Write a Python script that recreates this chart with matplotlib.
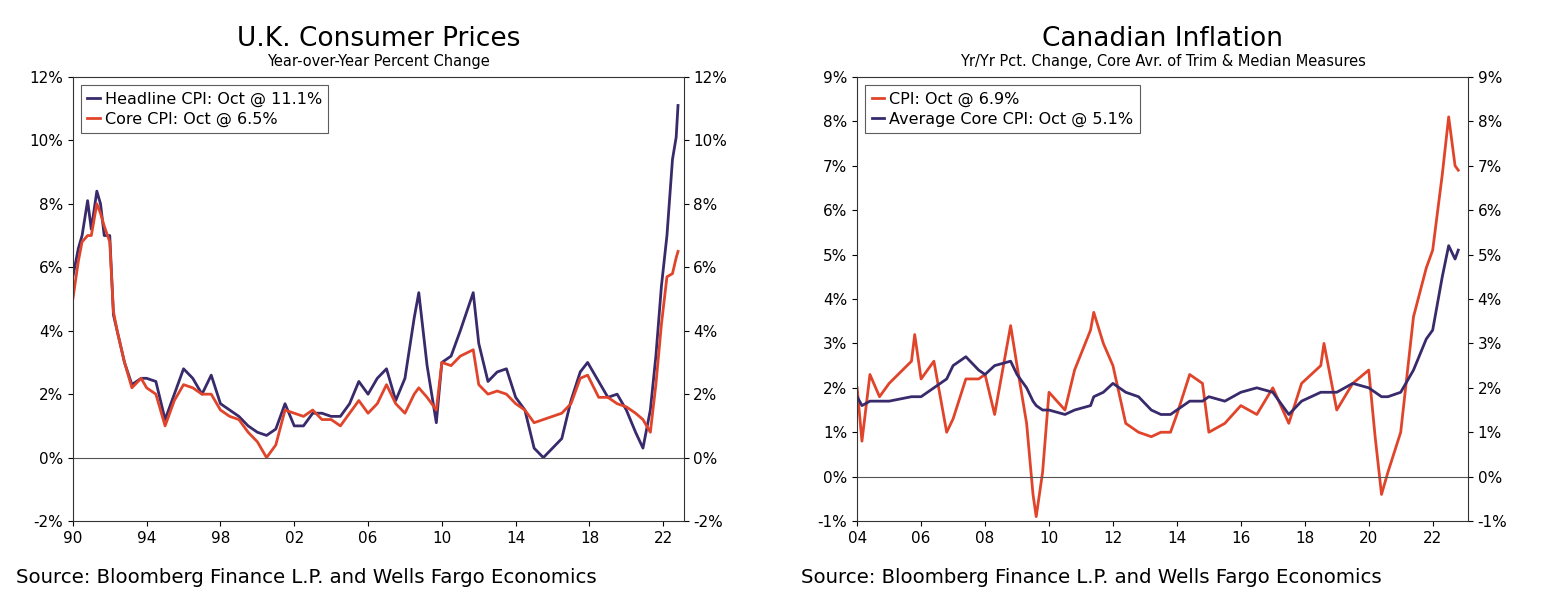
import matplotlib
matplotlib.use('Agg')
import matplotlib.pyplot as plt
from matplotlib.ticker import FuncFormatter

NAVY = '#382a6b'
RED = '#e0452b'

# U.K. consumer prices
uk_t = [1990.0, 1990.3, 1990.5, 1990.8, 1991.0, 1991.3, 1991.5, 1991.7, 1992.0, 1992.2, 1992.4, 1992.8,
        1993.2, 1993.7, 1994.0, 1994.5, 1995.0, 1995.5, 1996.0, 1996.5, 1997.0, 1997.5, 1998.0, 1998.5,
        1999.0, 1999.5, 2000.0, 2000.5, 2001.0, 2001.5, 2002.0, 2002.5, 2003.0, 2003.5, 2004.0, 2004.5,
        2005.0, 2005.5, 2006.0, 2006.5, 2007.0, 2007.5, 2008.0, 2008.5, 2008.75, 2009.2, 2009.7, 2010.0,
        2010.5, 2011.0, 2011.7, 2012.0, 2012.5, 2013.0, 2013.5, 2014.0, 2014.5, 2015.0, 2015.5, 2016.0,
        2016.5, 2017.0, 2017.5, 2017.9, 2018.5, 2019.0, 2019.5, 2020.0, 2020.5, 2020.9, 2021.3, 2021.6,
        2021.9, 2022.2, 2022.5, 2022.7, 2022.8]
uk_headline = [5.7, 6.6, 7.0, 8.1, 7.2, 8.4, 8.0, 7.0, 7.0, 4.5, 4.0, 3.0,
               2.3, 2.5, 2.5, 2.4, 1.2, 2.0, 2.8, 2.5, 2.0, 2.6, 1.7, 1.5,
               1.3, 1.0, 0.8, 0.7, 0.9, 1.7, 1.0, 1.0, 1.4, 1.4, 1.3, 1.3,
               1.7, 2.4, 2.0, 2.5, 2.8, 1.8, 2.5, 4.4, 5.2, 2.9, 1.1, 3.0,
               3.2, 4.0, 5.2, 3.6, 2.4, 2.7, 2.8, 1.9, 1.5, 0.3, 0.0, 0.3,
               0.6, 1.8, 2.7, 3.0, 2.4, 1.9, 2.0, 1.5, 0.8, 0.3, 1.5, 3.2,
               5.4, 7.0, 9.4, 10.1, 11.1]
uk_core = [5.0, 6.2, 6.8, 7.0, 7.0, 8.0, 7.7, 7.3, 6.8, 4.6, 4.0, 3.0,
           2.2, 2.5, 2.2, 2.0, 1.0, 1.8, 2.3, 2.2, 2.0, 2.0, 1.5, 1.3,
           1.2, 0.8, 0.5, 0.0, 0.4, 1.5, 1.4, 1.3, 1.5, 1.2, 1.2, 1.0,
           1.4, 1.8, 1.4, 1.7, 2.3, 1.7, 1.4, 2.0, 2.2, 1.9, 1.5, 3.0,
           2.9, 3.2, 3.4, 2.3, 2.0, 2.1, 2.0, 1.7, 1.5, 1.1, 1.2, 1.3,
           1.4, 1.7, 2.5, 2.6, 1.9, 1.9, 1.7, 1.6, 1.4, 1.2, 0.8, 2.3,
           4.2, 5.7, 5.8, 6.3, 6.5]

# Canadian inflation
ca_t = [2004.0, 2004.15, 2004.4, 2004.7, 2005.0, 2005.7, 2005.8, 2006.0, 2006.4, 2006.8, 2007.0, 2007.4,
        2007.8, 2008.0, 2008.3, 2008.8, 2009.0, 2009.3, 2009.5, 2009.6, 2009.8, 2010.0, 2010.5, 2010.8,
        2011.3, 2011.4, 2011.7, 2012.0, 2012.4, 2012.8, 2013.2, 2013.5, 2013.8, 2014.0, 2014.4, 2014.8,
        2015.0, 2015.5, 2016.0, 2016.5, 2017.0, 2017.5, 2017.9, 2018.5, 2018.6, 2019.0, 2019.5, 2020.0,
        2020.2, 2020.4, 2020.6, 2021.0, 2021.4, 2021.8, 2022.0, 2022.3, 2022.5, 2022.7, 2022.8]
ca_cpi = [2.0, 0.8, 2.3, 1.8, 2.1, 2.6, 3.2, 2.2, 2.6, 1.0, 1.3, 2.2,
          2.2, 2.3, 1.4, 3.4, 2.5, 1.2, -0.4, -0.9, 0.1, 1.9, 1.5, 2.4,
          3.3, 3.7, 3.0, 2.5, 1.2, 1.0, 0.9, 1.0, 1.0, 1.4, 2.3, 2.1,
          1.0, 1.2, 1.6, 1.4, 2.0, 1.2, 2.1, 2.5, 3.0, 1.5, 2.1, 2.4,
          0.9, -0.4, 0.1, 1.0, 3.6, 4.7, 5.1, 6.8, 8.1, 7.0, 6.9]
ca_core = [1.8, 1.6, 1.7, 1.7, 1.7, 1.8, 1.8, 1.8, 2.0, 2.2, 2.5, 2.7,
           2.4, 2.3, 2.5, 2.6, 2.3, 2.0, 1.7, 1.6, 1.5, 1.5, 1.4, 1.5,
           1.6, 1.8, 1.9, 2.1, 1.9, 1.8, 1.5, 1.4, 1.4, 1.5, 1.7, 1.7,
           1.8, 1.7, 1.9, 2.0, 1.9, 1.4, 1.7, 1.9, 1.9, 1.9, 2.1, 2.0,
           1.9, 1.8, 1.8, 1.9, 2.4, 3.1, 3.3, 4.5, 5.2, 4.9, 5.1]

pct = FuncFormatter(lambda v, p: '%d%%' % v)
yr = FuncFormatter(lambda v, p: '%02d' % (int(round(v)) % 100))


def panel(ax, title, subtitle, series, xlim, xticks, ylim, yticks):
    for x, y, c, lab in series:
        ax.plot(x, y, color=c, lw=2, label=lab)
    ax.axhline(0, color='#555555', lw=0.8)
    ax.set_xlim(*xlim)
    ax.set_ylim(*ylim)
    ax.set_xticks(xticks)
    ax.set_yticks(yticks)
    ax.xaxis.set_major_formatter(yr)
    ax.yaxis.set_major_formatter(pct)
    ax.tick_params(labelsize=11, direction='out', right=True, labelright=True)
    for s in ax.spines.values():
        s.set_color('#333333')
    ax.text(0.5, 1.07, title, transform=ax.transAxes, ha='center', fontsize=19)
    ax.text(0.5, 1.025, subtitle, transform=ax.transAxes, ha='center', fontsize=10.5)
    leg = ax.legend(loc='upper left', fontsize=11.5, frameon=True, fancybox=False,
                    handlelength=0.8, borderpad=0.4, labelspacing=0.3, handletextpad=0.3)
    leg.get_frame().set_edgecolor('#333333')
    leg.get_frame().set_linewidth(0.8)


fig = plt.figure(figsize=(15.5, 6.01), dpi=100)
ax1 = fig.add_axes([0.047, 0.133, 0.394, 0.739])
ax2 = fig.add_axes([0.553, 0.133, 0.394, 0.739])

panel(ax1, 'U.K. Consumer Prices', 'Year-over-Year Percent Change',
      [(uk_t, uk_headline, NAVY, 'Headline CPI: Oct @ 11.1%'),
       (uk_t, uk_core, RED, 'Core CPI: Oct @ 6.5%')],
      (1990, 2023.1), range(1990, 2023, 4), (-2, 12), range(-2, 13, 2))
panel(ax2, 'Canadian Inflation', 'Yr/Yr Pct. Change, Core Avr. of Trim & Median Measures',
      [(ca_t, ca_cpi, RED, 'CPI: Oct @ 6.9%'),
       (ca_t, ca_core, NAVY, 'Average Core CPI: Oct @ 5.1%')],
      (2004, 2023.1), range(2004, 2023, 2), (-1, 9), range(-1, 10, 1))

fig.text(0.01, 0.03, 'Source: Bloomberg Finance L.P. and Wells Fargo Economics', fontsize=14.2)
fig.text(0.517, 0.03, 'Source: Bloomberg Finance L.P. and Wells Fargo Economics', fontsize=14.2)

fig.savefig('out.png', dpi=100)
